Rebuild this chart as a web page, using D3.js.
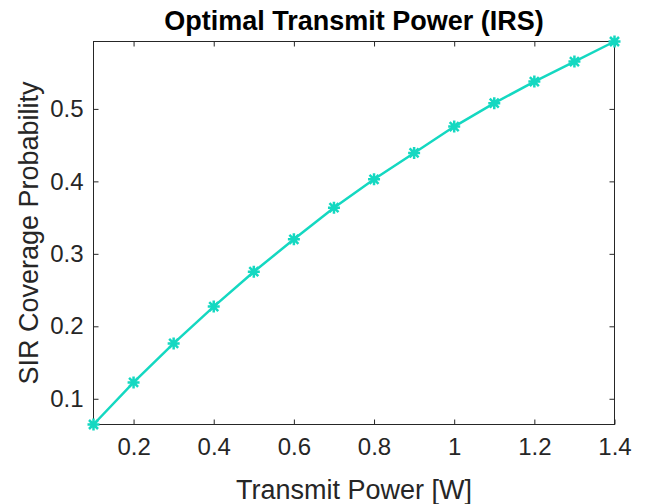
<!DOCTYPE html>
<html>
    <head>
        <meta charset="utf-8">
        <title>Optimal Transmit Power (IRS)</title>
        <script src="https://d3js.org/d3.v7.min.js"></script>
        <style>
         body { margin: 0; background: #fff; }
         svg text { font-family: "Liberation Sans", Arial, Helvetica, sans-serif; fill: #262626; }
        </style>
    </head>

    <body>
        <div id="chart"></div>

        <script>
         // data
         var power = [0.1, 0.2, 0.3, 0.4, 0.5, 0.6, 0.7, 0.8, 0.9, 1.0, 1.1, 1.2, 1.3, 1.4];
         var coverage = [0.0645, 0.1225, 0.1764, 0.2272, 0.2753, 0.3200, 0.3637,
                         0.4029, 0.4392, 0.4756, 0.5079, 0.5377, 0.5653, 0.5930];
         var xTicks = [0.2, 0.4, 0.6, 0.8, 1.0, 1.2, 1.4];
         var yTicks = [0.1, 0.2, 0.3, 0.4, 0.5];

         var W = 646, H = 504;
         // note: "top" is taken by window.top, so prefix these
         var pLeft = 93.5, pRight = 614.5, pTop = 41.5, pBottom = 424.5;
         var color = "#14d8c1";
         var axisColor = "#262626";

         var svg = d3.select("#chart").append("svg")
                     .attr("width", W)
                     .attr("height", H);

         // axis tight like matlab
         var x = d3.scaleLinear().domain([0.1, 1.4]).range([pLeft, pRight]);
         var y = d3.scaleLinear().domain(d3.extent(coverage)).range([pBottom, pTop]);

         function styleAxis(g) {
             g.select(".domain").remove();
             g.selectAll(".tick line").attr("stroke", axisColor).attr("stroke-width", 1);
             g.selectAll(".tick text")
              .style("font-size", "24px")
              .attr("fill", axisColor);
         }

         // bottom + top
         svg.append("g")
            .attr("transform", "translate(0," + pBottom + ")")
            .call(d3.axisBottom(x).tickValues(xTicks).tickSizeInner(-5).tickSizeOuter(0)
                    .tickPadding(13).tickFormat(d3.format("~g")))
            .call(styleAxis);
         svg.append("g")
            .attr("transform", "translate(0," + pTop + ")")
            .call(d3.axisTop(x).tickValues(xTicks).tickSizeInner(-5).tickSizeOuter(0).tickFormat(""))
            .call(styleAxis);

         // left + right
         svg.append("g")
            .attr("transform", "translate(" + pLeft + ",0)")
            .call(d3.axisLeft(y).tickValues(yTicks).tickSizeInner(-5).tickSizeOuter(0)
                    .tickPadding(10).tickFormat(d3.format("~g")))
            .call(styleAxis);
         svg.append("g")
            .attr("transform", "translate(" + pRight + ",0)")
            .call(d3.axisRight(y).tickValues(yTicks).tickSizeInner(-5).tickSizeOuter(0).tickFormat(""))
            .call(styleAxis);

         // box
         svg.append("rect")
            .attr("x", pLeft).attr("y", pTop)
            .attr("width", pRight - pLeft).attr("height", pBottom - pTop)
            .attr("fill", "none")
            .attr("stroke", axisColor)
            .attr("stroke-width", 1);

         var pts = power.map(function(p, i) { return [p, coverage[i]]; });

         var line = d3.line()
                      .x(function(d) { return x(d[0]); })
                      .y(function(d) { return y(d[1]); });

         svg.append("path")
            .datum(pts)
            .attr("d", line)
            .attr("fill", "none")
            .attr("stroke", color)
            .attr("stroke-width", 2.5);

         // asterisk markers
         var r = 6, rd = 4.5;
         var star = "M0," + (-r) + "V" + r + "M" + (-r) + ",0H" + r +
                    "M" + (-rd) + "," + (-rd) + "L" + rd + "," + rd +
                    "M" + (-rd) + "," + rd + "L" + rd + "," + (-rd);
         svg.selectAll("path.mark")
            .data(pts)
            .enter().append("path")
            .attr("class", "mark")
            .attr("transform", function(d) { return "translate(" + x(d[0]) + "," + y(d[1]) + ")"; })
            .attr("d", star)
            .attr("stroke", color)
            .attr("stroke-width", 2.5)
            .attr("fill", "none");

         // titles
         svg.append("text")
            .attr("x", (pLeft + pRight) / 2)
            .attr("y", 30)
            .attr("text-anchor", "middle")
            .style("font-size", "27px")
            .style("font-weight", "bold")
            .style("fill", "#000")
            .text("Optimal Transmit Power (IRS)");

         svg.append("text")
            .attr("x", (pLeft + pRight) / 2)
            .attr("y", 499)
            .attr("text-anchor", "middle")
            .style("font-size", "27px")
            .text("Transmit Power [W]");

         svg.append("text")
            .attr("transform", "translate(38," + ((pTop + pBottom) / 2) + ") rotate(-90)")
            .attr("text-anchor", "middle")
            .style("font-size", "27px")
            .text("SIR Coverage Probability");
        </script>
    </body>
</html>
